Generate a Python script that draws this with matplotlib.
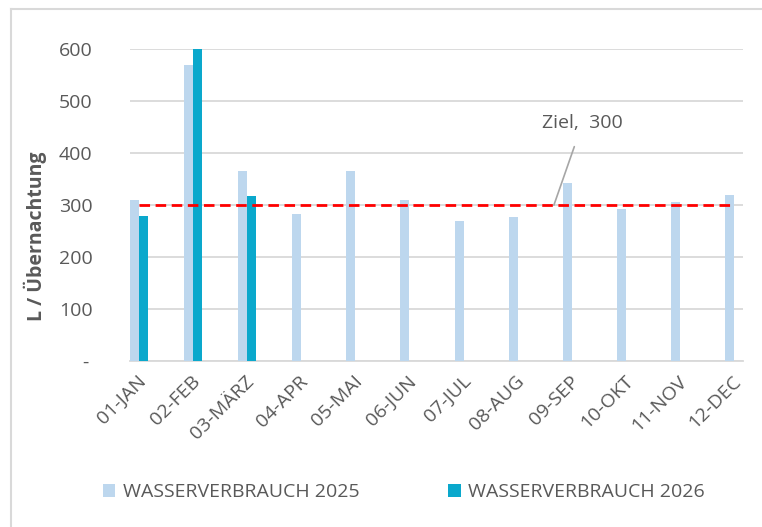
import matplotlib
matplotlib.use("Agg")
import matplotlib.pyplot as plt
from matplotlib.lines import Line2D
from matplotlib.transforms import ScaledTranslation
import numpy as np

categories = ["01-JAN", "02-FEB", "03-MÄRZ", "04-APR", "05-MAI", "06-JUN",
              "07-JUL", "08-AUG", "09-SEP", "10-OKT", "11-NOV", "12-DEC"]
verbrauch_2025 = [310, 570, 366, 283, 366, 309, 269, 278, 342, 293, 307, 320]
verbrauch_2026 = [279, 600, 318]
ziel = 300
yticks = [0, 100, 200, 300, 400, 500, 600]
ytick_labels = ["-", "100", "200", "300", "400", "500", "600"]

FONT = ["Open Sans", "DejaVu Sans"]
plt.rcParams["font.family"] = FONT
TXT = "#595959"
LIGHT = "#BDD7EE"
DARK = "#0AA8CC"
GRID = "#D9D9D9"

W, H = 762, 527
fig = plt.figure(figsize=(W / 100, H / 100), dpi=100)

ax_l, ax_r, ax_t, ax_b = 130, 743, 49.3, 361
ax = fig.add_axes([ax_l / W, 1 - ax_b / H, (ax_r - ax_l) / W, (ax_b - ax_t) / H])

x = np.arange(len(categories))
w = 0.166
# light bar sits left of the category centre, dark bar right of it
ax.bar(x - w, verbrauch_2025, width=w, align="edge", color=LIGHT, zorder=3,
       label="WASSERVERBRAUCH 2025")
ax.bar(x[:len(verbrauch_2026)], verbrauch_2026, width=w, align="edge",
       color=DARK, zorder=3, label="WASSERVERBRAUCH 2026")

ax.plot([x[0], x[-1]], [ziel, ziel], color="#FF0000", lw=2,
        dashes=(3.8, 2), zorder=4)

ax.set_xlim(-w, x[-1] + w)
ax.set_ylim(0, 600)
ax.set_yticks(yticks)
ax.set_yticklabels(ytick_labels)
ax.set_xticks(x)
ax.set_xticklabels(categories, rotation=45, ha="right", va="top",
                   rotation_mode="anchor")
ax.tick_params(axis="both", length=0, labelsize=14, colors=TXT)
ax.tick_params(axis="y", pad=27)
ax.tick_params(axis="x", pad=8)
ax.grid(axis="y", color=GRID, lw=1.3, zorder=0)
for s in ["top", "right", "left"]:
    ax.spines[s].set_visible(False)
ax.spines["bottom"].set_color(GRID)
ax.spines["bottom"].set_linewidth(1.3)
ax.spines["bottom"].set_zorder(2)

# shift the zero label ("-") left, like Excel's accounting format
zero_lbl = ax.yaxis.get_major_ticks()[0].label1
zero_lbl.set_transform(zero_lbl.get_transform() +
                       ScaledTranslation(-4 / 100, 0, fig.dpi_scale_trans))
for t in ax.xaxis.get_major_ticks():
    t.label1.set_transform(t.label1.get_transform() +
                           ScaledTranslation(-2 / 100, 0, fig.dpi_scale_trans))

ax.set_ylabel("L / Übernachtung", fontsize=14, fontweight="bold", color=TXT)
ax.yaxis.set_label_coords((47 - ax_l) / (ax_r - ax_l), (ax_b - 236) / (ax_b - ax_t))

ax.annotate("Ziel,  300", xy=(7.67, ziel), xytext=(8.2, 458),
            fontsize=14, color=TXT, ha="center", va="center",
            arrowprops=dict(arrowstyle="-", color="#A6A6A6", lw=1.2,
                            shrinkA=9, shrinkB=0))

fig.legend(loc="center", bbox_to_anchor=(0.530, 1 - 492 / H), ncol=2,
           frameon=False, fontsize=14, labelcolor=TXT,
           handlelength=0.65, handleheight=0.65, handletextpad=0.4,
           columnspacing=4.55)

fig.add_artist(Line2D([11 / W, 11 / W], [0, 1 - 9 / H], color=GRID, lw=1.5,
                      transform=fig.transFigure))
fig.add_artist(Line2D([11 / W, 1], [1 - 9 / H, 1 - 9 / H], color=GRID, lw=1.5,
                      transform=fig.transFigure))

fig.savefig("out.png", dpi=100, facecolor="white")
